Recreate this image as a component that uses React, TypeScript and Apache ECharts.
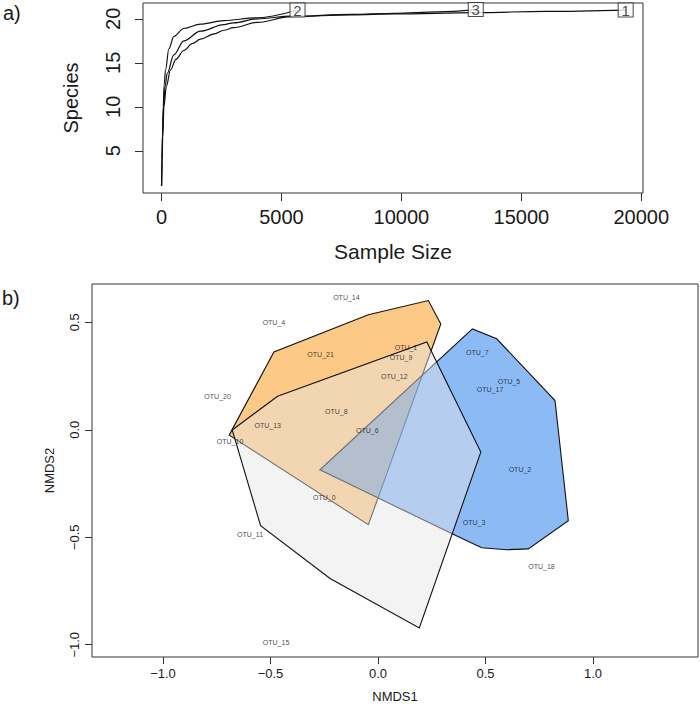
import React, { useEffect, useRef } from "react";
import * as echarts from "echarts";

// ---------- a) rarefaction curves ----------
const curve1X = [1, 20, 50, 100, 200, 375, 600, 930, 1300, 1625, 2200, 2600, 3000, 4000, 5400, 7900, 9700, 13100, 16000, 19350];
const curve1Y = [1, 3.5, 6.5, 10, 12.3, 14.2, 15.4, 16.4, 17.2, 17.7, 18.3, 18.7, 19.0, 19.6, 20.25, 20.45, 20.55, 20.7, 20.85, 21];
const curve3X = [1, 20, 45, 90, 150, 236, 514, 930, 1625, 2600, 3000, 4000, 5400, 7900, 9700, 11500, 13100];
const curve3Y = [1, 3.8, 7, 10.3, 12.3, 13.8, 15.9, 17.5, 18.6, 19.35, 19.55, 20.0, 20.3, 20.5, 20.62, 20.8, 21.05];
const curve2X = [1, 20, 45, 70, 110, 167, 306, 514, 930, 1625, 2600, 3900, 5670];
const curve2Y = [1, 4, 7.2, 10, 12.5, 14.2, 16.6, 18.0, 18.9, 19.4, 19.8, 20.1, 21.0];
const curveLabels = ["1", "2", "3"];
const curveEndX = [19350, 5670, 13100];
const curveEndY = [21, 21, 21.05];
const xTicksA = [0, 5000, 10000, 15000, 20000];
const yTicksA = [5, 10, 15, 20];

// ---------- b) NMDS ----------
const otuNames = ["OTU_14", "OTU_4", "OTU_21", "OTU_1", "OTU_9", "OTU_12", "OTU_20", "OTU_8", "OTU_13", "OTU_6", "OTU_10", "OTU_0", "OTU_11", "OTU_15", "OTU_7", "OTU_5", "OTU_17", "OTU_2", "OTU_3", "OTU_18"];
const otuX = [-0.147, -0.484, -0.267, 0.130, 0.107, 0.076, -0.746, -0.194, -0.513, -0.050, -0.688, -0.250, -0.595, -0.474, 0.462, 0.609, 0.521, 0.660, 0.447, 0.760];
const otuY = [0.617, 0.500, 0.350, 0.382, 0.334, 0.247, 0.155, 0.087, 0.021, -0.002, -0.055, -0.313, -0.485, -0.988, 0.359, 0.224, 0.185, -0.184, -0.431, -0.634];

const orangeHullX = [-0.692, -0.484, -0.045, 0.234, 0.292, -0.045];
const orangeHullY = [-0.025, 0.362, 0.535, 0.601, 0.492, -0.442];
const blueHullX = [-0.270, 0.439, 0.552, 0.823, 0.885, 0.699, 0.599, 0.482, 0.347];
const blueHullY = [-0.186, 0.469, 0.423, 0.136, -0.423, -0.554, -0.558, -0.549, -0.485];
const grayHullX = [-0.678, -0.467, 0.227, 0.478, 0.192, -0.223, -0.546];
const grayHullY = [-0.001, 0.156, 0.408, -0.104, -0.922, -0.692, -0.446];
const xTicksB = [-1, -0.5, 0, 0.5, 1];
const yTicksB = [-1, -0.5, 0, 0.5];

const FONT = "Liberation Sans, Arial, sans-serif";
const TXT = "#1a1a1a";

function zip(xs: number[], ys: number[]) {
  return xs.map((x, i) => [x, ys[i]]);
}

function curveSeries(xs: number[], ys: number[]) {
  return {
    type: "line",
    xAxisIndex: 0,
    yAxisIndex: 0,
    data: zip(xs, ys),
    smooth: 0.35,
    smoothMonotone: "x",
    showSymbol: false,
    symbol: "none",
    lineStyle: { color: "#111", width: 1.2 },
    silent: true,
  };
}

function hullSeries(xs: number[], ys: number[], fill: string) {
  return {
    type: "custom",
    coordinateSystem: "cartesian2d",
    xAxisIndex: 1,
    yAxisIndex: 1,
    data: zip(xs, ys),
    silent: true,
    renderItem: (params: any, api: any) => {
      if (params.dataIndex !== 0) return null;
      return {
        type: "polygon",
        shape: { points: xs.map((x, i) => api.coord([x, ys[i]])) },
        style: { fill, stroke: "#111", lineWidth: 1.1 },
      };
    },
  };
}

const minus = (s: string) => s.replace("-", "\u2212");

export default function App() {
  const ref = useRef<HTMLDivElement>(null);
  useEffect(() => {
    if (!ref.current) return;
    const chart = echarts.init(ref.current, null, { renderer: "svg" });
    const option: any = {
      animation: false,
      backgroundColor: "#ffffff",
      textStyle: { fontFamily: FONT },
      graphic: [
        { type: "text", left: 3, top: 3, style: { text: "a)", fontSize: 20, fill: TXT, fontFamily: FONT } },
        { type: "text", left: 2, top: 288, style: { text: "b)", fontSize: 20, fill: TXT, fontFamily: FONT } },
      ],
      grid: [
        { left: 143, top: 3, width: 500, height: 190, show: true, borderColor: "#333", borderWidth: 1, backgroundColor: "transparent" },
        { left: 92, top: 284, width: 606, height: 377, show: true, borderColor: "#333", borderWidth: 1, backgroundColor: "transparent" },
      ],
      xAxis: [
        {
          type: "value",
          gridIndex: 0,
          min: -772,
          max: 20072,
          axisLine: { show: false, onZero: false },
          splitLine: { show: false },
          axisTick: { show: true, customValues: xTicksA, length: 8, lineStyle: { color: "#333" } },
          axisLabel: { customValues: xTicksA, fontSize: 20, margin: 14, color: TXT, fontFamily: FONT, formatter: (v: number) => String(v) },
          name: "Sample Size",
          nameLocation: "middle",
          nameGap: 48,
          nameTextStyle: { fontSize: 21, color: TXT, fontFamily: FONT },
        },
        {
          type: "value",
          gridIndex: 1,
          min: -1.33,
          max: 1.488,
          axisLine: { show: false, onZero: false },
          splitLine: { show: false },
          axisTick: { show: true, customValues: xTicksB, length: 7, lineStyle: { color: "#333" } },
          axisLabel: { customValues: xTicksB, fontSize: 13, margin: 10, color: TXT, fontFamily: FONT, formatter: (v: number) => minus(v.toFixed(1)) },
          name: "NMDS1",
          nameLocation: "middle",
          nameGap: 33,
          nameTextStyle: { fontSize: 13, color: TXT, fontFamily: FONT },
        },
      ],
      yAxis: [
        {
          type: "value",
          gridIndex: 0,
          min: 0.2,
          max: 21.8,
          axisLine: { show: false, onZero: false },
          splitLine: { show: false },
          axisTick: { show: true, customValues: yTicksA, length: 8, lineStyle: { color: "#333" } },
          axisLabel: { customValues: yTicksA, fontSize: 20, margin: 20, rotate: 90, color: TXT, fontFamily: FONT },
          name: "Species",
          nameLocation: "middle",
          nameGap: 62,
          nameTextStyle: { fontSize: 20, color: TXT, fontFamily: FONT },
        },
        {
          type: "value",
          gridIndex: 1,
          min: -1.057,
          max: 0.678,
          axisLine: { show: false, onZero: false },
          splitLine: { show: false },
          axisTick: { show: true, customValues: yTicksB, length: 7, lineStyle: { color: "#333" } },
          axisLabel: { customValues: yTicksB, fontSize: 13, margin: 11, rotate: 90, color: TXT, fontFamily: FONT, formatter: (v: number) => minus(v.toFixed(1)) },
          name: "NMDS2",
          nameLocation: "middle",
          nameGap: 36,
          nameTextStyle: { fontSize: 13, color: TXT, fontFamily: FONT },
        },
      ],
      series: [
        curveSeries(curve1X, curve1Y),
        curveSeries(curve2X, curve2Y),
        curveSeries(curve3X, curve3Y),
        {
          type: "scatter",
          xAxisIndex: 0,
          yAxisIndex: 0,
          z: 5,
          symbol: "rect",
          symbolSize: [15, 14],
          silent: true,
          itemStyle: { color: "#ffffff", borderColor: "#222", borderWidth: 1 },
          data: curveLabels.map((n, i) => ({ name: n, value: [curveEndX[i], curveEndY[i]] })),
          label: { show: true, position: "inside", formatter: (p: any) => p.name, fontSize: 15, color: TXT, fontFamily: FONT },
        },
        hullSeries(orangeHullX, orangeHullY, "rgba(253,201,135,1)"),
        hullSeries(blueHullX, blueHullY, "rgba(34,122,236,0.52)"),
        hullSeries(grayHullX, grayHullY, "rgba(229,229,229,0.46)"),
        {
          type: "scatter",
          xAxisIndex: 1,
          yAxisIndex: 1,
          z: 6,
          symbolSize: 1,
          silent: true,
          itemStyle: { color: "transparent" },
          data: otuNames.map((n, i) => ({ name: n, value: [otuX[i], otuY[i]] })),
          label: { show: true, position: "inside", formatter: (p: any) => p.name, fontSize: 7, color: "#111", fontFamily: FONT },
        },
      ],
    };
    chart.setOption(option);
    return () => chart.dispose();
  }, []);
  return <div ref={ref} style={{ position: "absolute", left: 0, top: 0, width: 700, height: 708 }} />;
}
